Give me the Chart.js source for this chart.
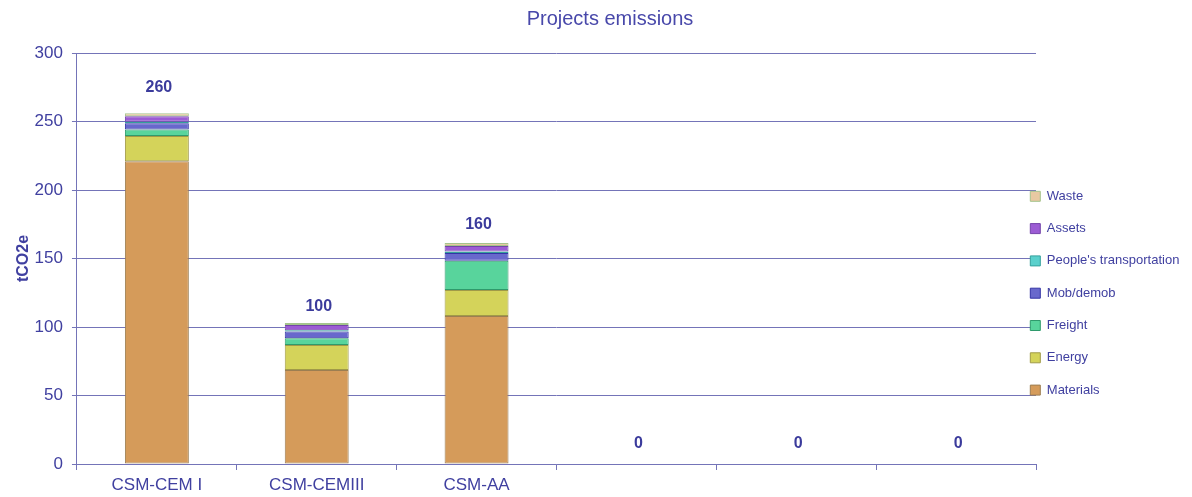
<!DOCTYPE html>
<html>
<head>
<meta charset="utf-8">
<script src="https://cdn.jsdelivr.net/npm/chart.js@4/dist/chart.umd.min.js"></script>
<style>
  html, body { margin: 0; padding: 0; background: #ffffff; }
  #wrap { width: 1192px; height: 497px; }
</style>
</head>
<body>
<div id="wrap"><canvas id="c" width="1192" height="497"></canvas></div>
<script>
const categories = ["CSM-CEM I", "CSM-CEMIII", "CSM-AA", "", "", ""];
const materials = [221, 68.6, 108, 0, 0, 0];
const energy = [18.4, 18.3, 19, 0, 0, 0];
const freight = [4.7, 4.8, 21.4, 0, 0, 0];
const mobDemob = [4.7, 5.0, 5.6, 0, 0, 0];
const peoplesTransport = [1.1, 1.0, 1.1, 0, 0, 0];
const assets = [4.0, 3.8, 4.0, 0, 0, 0];
const waste = [2.2, 1.5, 2.2, 0, 0, 0];
const totals = [260, 100, 160, 0, 0, 0];
const yTicks = [0, 50, 100, 150, 200, 250, 300];

const TEXT = '#4040a0';
const GRID = '#7474b8';
const FONT = "'Liberation Sans', Arial, sans-serif";

const totalLabels = {
  id: 'totalLabels',
  afterDatasetsDraw(chart) {
    const {ctx, scales: {x, y}} = chart;
    ctx.save();
    ctx.font = "bold 16px " + FONT;
    ctx.fillStyle = '#3b3b9c';
    ctx.textAlign = 'center';
    ctx.textBaseline = 'middle';
    totals.forEach((t, i) => {
      ctx.fillText(String(t), x.getPixelForValue(i) + 2, y.getPixelForValue(t) - 20);
    });
    ctx.restore();
  }
};

const placeBoxes = {
  id: 'placeBoxes',
  afterLayout(chart) {
    const lg = chart.legend;
    if (lg) {
      const dx = (chart.chartArea.right - 6 - 19) - lg.left;
      lg.left += dx;
      lg.right = chart.width;
      const dy = 170.5 - lg.top;
      lg.top += dy; lg.bottom += dy;
    }
    const tb = chart.titleBlock;
    if (tb) { tb.left += 14; tb.right += 14; }
  }
};

function ds(label, data, bg, border) {
  return {
    label, data,
    backgroundColor: bg,
    borderColor: border,
    borderWidth: 1,
    borderSkipped: false,
    barPercentage: 0.4,
    categoryPercentage: 1.0,
    stack: 's'
  };
}

new Chart(document.getElementById('c'), {
  type: 'bar',
  data: {
    labels: categories,
    datasets: [
      ds('Materials', materials, '#d59b5a', '#9c7e52'),
      ds('Energy', energy, '#d4d35a', '#a09a48'),
      ds('Freight', freight, '#58d49c', '#2f9a6c'),
      ds('Mob/demob', mobDemob, '#6868cc', '#3434a6'),
      ds("People's transportation", peoplesTransport, '#5ad0cc', '#34a09c'),
      ds('Assets', assets, '#9c5cd4', '#7444aa'),
      ds('Waste', waste, '#e8c9a2', '#a4c48c')
    ]
  },
  options: {
    responsive: false,
    animation: false,
    layout: { padding: { left: 0, right: 0, top: 0, bottom: -3 } },
    plugins: {
      title: {
        display: true,
        text: 'Projects emissions',
        color: '#4848aa',
        font: { family: FONT, size: 20, weight: 'normal' },
        padding: { top: 7, bottom: 22 }
      },
      legend: {
        display: true,
        position: 'right',
        align: 'start',
        reverse: true,
        maxWidth: 156,
        labels: {
          color: TEXT,
          font: { family: FONT, size: 13 },
          boxWidth: 10,
          boxHeight: 10,
          padding: 19.3
        }
      },
      tooltip: { enabled: false }
    },
    scales: {
      x: {
        stacked: true,
        offset: true,
        grid: {
          display: true,
          offset: true,
          drawOnChartArea: false,
          drawTicks: true,
          tickLength: 6,
          color: GRID
        },
        border: { display: true, color: GRID, width: 1 },
        ticks: {
          color: TEXT,
          font: { family: FONT, size: 17 },
          padding: 4.8,
          maxRotation: 0,
          autoSkip: false
        }
      },
      y: {
        stacked: true,
        min: 0,
        max: 300,
        afterBuildTicks(axis) { axis.ticks = yTicks.map(v => ({ value: v })); },
        grid: {
          display: true,
          drawTicks: true,
          tickLength: 5,
          color: GRID
        },
        border: { display: true, color: GRID, width: 1 },
        ticks: {
          color: TEXT,
          font: { family: FONT, size: 17 },
          padding: 9
        },
        title: {
          display: true,
          text: 'tCO2e',
          color: TEXT,
          font: { family: FONT, size: 16, weight: 'bold' },
          padding: { top: 14.4, bottom: -8 }
        }
      }
    }
  },
  plugins: [totalLabels, placeBoxes]
});
</script>
</body>
</html>
